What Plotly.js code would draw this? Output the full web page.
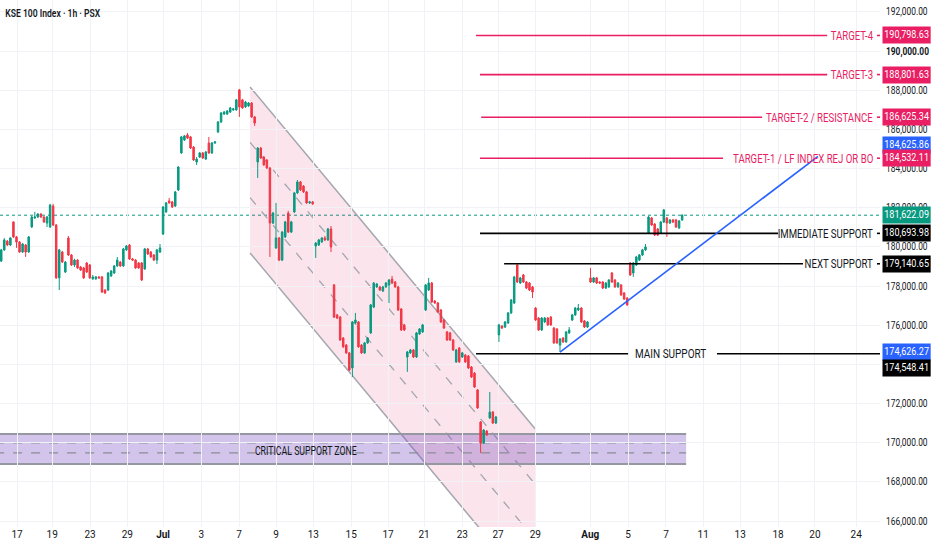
<!DOCTYPE html>
<html><head><meta charset="utf-8">
<script src="https://cdn.plot.ly/plotly-3.0.1.min.js"></script>
<style>html,body{margin:0;padding:0;background:#fff}#chart{width:932px;height:550px}</style>
</head><body><div id="chart"></div>
<script>
// ---- OHLC data (hourly bars, KSE 100) ----
const openP=[179280,179850,180300,180100,181280,180510,180250,179740,180100,179740,181020,181480,181530,181680,181530,181220,181020,182090,
181120,178420,179740,178720,180460,179590,179080,179330,178980,178930,179180,179080,178370,178370,178470,178470,177800,177800,178520,178670,179030,
179230,179030,179850,180100,179390,179330,179180,179180,178880,179900,179740,179590,179330,179740,180660,181790,182350,182300,182090,182910,
184800,185460,185720,185620,185100,184340,184590,184800,184490,185310,184800,185310,185870,186380,186790,186790,186890,187000,187000,188020,
187510,187150,187200,187350,186640,184340,185050,184590,184440,184030,181220,179950,180460,179330,180510,181730,180760,181790,182760,183320,
183110,182810,182250,182300,180050,180100,180260,180460,180360,180920,178060,176530,176420,175350,174990,174590,173820,176120,176170,174990,174590,
175100,175610,176930,177960,177960,177750,177960,178060,178360,178210,177960,176830,176020,174380,174590,174740,174380,175560,175660,176780,
177800,178160,177240,177140,176780,176270,175660,175610,175250,174130,174840,174380,174480,174430,173870,173560,172700,171060,169990,170600,
171270,171570,171010,175510,175960,175910,176120,176630,177140,179080,178160,178570,178210,178160,177960,176880,176370,175760,176170,176370,
176420,175860,175810,174990,175350,175150,175610,176270,176530,176780,176880,176220,175910,178420,178210,178420,178210,178210,177900,177960,
178670,178310,177960,178060,177650,177390,179180,178670,179080,179330,179590,179850,180710,181480,181170,180920,180710,181270,181480,181220,
181380,181380,180970,181380];
const highP=[179900,180450,180350,180500,181300,180560,180300,180200,180150,180560,181580,181790,181730,181730,181580,181580,182200,182200,
181170,179900,179800,179280,180560,179640,179400,179380,179030,178980,179230,179130,178570,178520,178520,178520,177850,178720,178820,179080,179490,
179280,179950,180100,180150,179440,179380,179230,179230,179950,179950,179790,179640,179900,180150,182090,182300,182500,182350,182860,184130,
185670,185720,185820,185670,185150,184590,184850,184850,184900,185620,185360,185410,186430,186890,186940,186990,187150,187100,187560,188070,
187560,187460,187400,187400,186690,185100,185100,184640,184490,184080,181790,182250,180510,180810,181330,181840,181330,182810,183420,183370,
183160,182860,182350,182350,180250,180410,180510,180560,180970,181070,178110,176580,176470,175400,175040,174640,176220,176630,176220,175040,175150,
175400,177090,178210,178160,178010,178010,178210,178360,178520,178260,178010,176880,176070,174690,174790,174790,175660,175860,176070,178110,
178420,178210,177290,177190,176830,176320,175710,175660,175300,174790,174890,174640,174530,174480,173920,173610,172750,171110,170700,170650,
172590,171620,171370,176070,176010,176220,176680,177340,178520,179130,178470,178620,178260,178210,178010,176930,176420,176420,176420,176420,
176470,175910,175860,175350,175400,175710,175910,176580,176930,177090,176930,176270,176220,178930,178470,178470,178260,178260,178210,178360,
178720,178360,178210,178110,177700,177440,179230,179230,179540,179640,179900,180150,181580,181530,181220,180970,181330,181940,181530,181430,
181430,181430,181380,181670];
const lowP=[179230,179800,180050,180050,180460,179950,179700,179700,179490,179700,180970,181430,181480,181480,181220,181020,180970,181070,
178370,177800,179180,178670,179540,179030,178980,178880,178770,178370,178670,178370,178320,178320,178370,177650,177600,177750,178470,178620,178980,
178980,178980,179800,179330,179280,178880,178880,178260,178830,179590,179440,179280,179130,179700,180610,181740,182200,181990,182040,182860,
184750,185410,185510,185000,184390,184190,184540,184490,184440,184750,184750,185260,185820,186330,186740,186740,186840,186950,186950,186640,
187050,187100,187150,186590,186180,183520,184490,184140,183980,179490,181170,179900,179280,179280,180460,180710,180710,181740,182710,182860,
182760,182200,182200,182150,179440,180050,180200,180300,180310,179740,176370,176320,175200,174850,174540,173670,173360,176070,174850,174540,174540,
175050,175560,176880,177910,177750,177700,177910,177140,178110,177910,176730,175710,175710,173620,174540,174330,174330,175510,175610,176730,
177750,177140,177090,176630,176120,175810,175200,175200,174690,174080,174080,174330,174080,173770,173310,172800,171730,169480,169940,170350,
171220,170960,170960,175150,175810,175860,176070,176580,177090,178160,178110,178160,177850,177750,177390,176220,175710,175710,176120,175970,
175970,175050,175050,174640,175100,175100,175560,176220,176480,176730,176120,175860,175860,178160,178160,178110,178110,177850,177850,177910,
178160,177910,177910,177500,177290,176990,178520,178470,179030,179280,179540,179800,180660,181070,180560,180560,180660,181220,180510,181170,
181220,180970,180920,181330];
const closeP=[179850,180360,180100,180460,180510,180250,179740,180150,179740,180510,181530,181530,181680,181530,181280,181530,182140,181120,
178420,179850,179230,179230,179590,179080,179330,178930,178820,178420,178720,178420,178470,178470,178420,177700,177650,178670,178770,179030,179330,
179030,179900,180050,179390,179330,178930,178930,178310,179900,179640,179490,179330,179850,179950,182040,182250,182250,182040,182810,184080,
185620,185670,185560,185050,184440,184490,184800,184540,184850,184800,185310,185360,186380,186840,186890,186940,187100,187050,187510,187150,
187100,187400,187350,186640,186330,185050,184540,184190,184030,181220,181730,180460,179330,180760,181280,180760,181280,182760,183320,182910,
182810,182250,182300,182200,180200,180360,180460,180360,180920,180000,176420,176370,175250,174900,174590,173720,176170,176270,174900,174590,175100,
175350,177040,178160,178110,177800,177960,178160,178310,178160,177960,176780,175760,175760,174640,174740,174380,175610,175810,176020,178060,
178160,177190,177140,176680,176170,175860,175250,175250,174740,174740,174130,174590,174130,173820,173360,172850,171780,169990,170650,170400,
171570,171010,171320,176020,175860,176170,176630,177290,178470,178210,178420,178210,177900,177800,177700,176270,175760,176370,176370,176020,
176020,175100,175100,175300,175150,175660,175760,176530,176880,176880,176170,175910,176170,178210,178420,178160,178160,177900,178160,178310,
178210,177960,178160,177550,177340,177040,178570,179180,179490,179590,179850,180000,181530,181120,180610,180610,181270,181890,181220,181380,
181270,181020,181330,181622.09];
const barIndex = closeP.map((_, i) => i);

// ---- axis ticks ----
const xTickVals = [5.2,16.7,29.1,41.3,53.0,65.5,77.9,90.0,102.2,114.6,126.7,138.5,151.0,162.7,174.9,192.9,205.3,217.7,229.9,242.0,254.4,266.5,280.0];
const xTickText = ['17','19','23','29','<b>Jul</b>','3','7','9','13','15','17','21','23','27','29','<b>Aug</b>','5','7','11','13','18','20','24'];
const yTickVals = [166000,168000,170000,172000,174000,176000,178000,180000,182000,184000,186000,188000,190000,192000];
const yTickText = ['166,000.00','168,000.00','170,000.00','172,000.00','','176,000.00','178,000.00','180,000.00','182,000.00','184,000.00','186,000.00','188,000.00','<b>190,000.00</b>','192,000.00'];

// ---- levels ----
const targetNames = ['TARGET-4','TARGET-3','TARGET-2 / RESISTANCE','TARGET-1 / LF INDEX REJ OR BO'];
const targetPrices = [190798.63,188801.63,186625.34,184532.11];
const targetStart = [155.5,156.8,157.2,156.8];
const targetLineEnd = [270.5,270.5,249.2,236.4];
const supportNames = ['IMMEDIATE SUPPORT','NEXT SUPPORT'];
const supportPrices = [180693.98,179140.65];
const supportStart = [156.8,164.7];
const supportLineEnd = [254.4,262.6];
const mainSupportPrice = 174548.41;
const lastPrice = 181622.09;
const trendStart = [183.0,174626.27];
const trendEnd = [267.5,184625.86];
const channelX = [81.5,174.9];
const channelUpper = [188170,170704];
const channelLower = [179692,162226];
const zoneBounds = [168917,170449];
const zoneDashes = [169990,169480];
const tagPrices=[190798.63,188801.63,186625.34,184625.86,184532.11,181622.09,180693.98,179140.65,174626.27,174548.41];

const PINK='#e91e63', GREEN='#089981', RED='#f23645', BLUE='#2962ff';
const FONT='Roboto, sans-serif';

const trace = {
  type:'candlestick', x:barIndex, open:openP, high:highP, low:lowP, close:closeP,
  increasing:{line:{color:GREEN,width:1},fillcolor:GREEN},
  decreasing:{line:{color:RED,width:1},fillcolor:RED},
  whiskerwidth:0, hoverinfo:'skip', showlegend:false
};

const shapes=[];
const annotations=[];
const squeezeList=[];
const tagTexts=[];
// channel fill
const chPath = 'M'+channelX[0]+','+channelUpper[0]+' L'+channelX[1]+','+channelUpper[1]+' L'+channelX[1]+','+channelLower[1]+' L'+channelX[0]+','+channelLower[0]+' Z';
shapes.push({type:'path',xref:'x',yref:'y',path:chPath,fillcolor:'rgba(233,30,99,0.12)',line:{width:0},layer:'below'});
const offs = (channelUpper[0]-channelLower[0])/3;
shapes.push({type:'line',xref:'x',yref:'y',x0:channelX[0],y0:channelUpper[0],x1:channelX[1],y1:channelUpper[1],line:{color:'#a3a6af',width:1.5},layer:'below'});
shapes.push({type:'line',xref:'x',yref:'y',x0:channelX[0],y0:channelLower[0],x1:channelX[1],y1:channelLower[1],line:{color:'#a3a6af',width:1.5},layer:'below'});
[1,2].forEach(k=>{
  shapes.push({type:'line',xref:'x',yref:'y',x0:channelX[0],y0:channelUpper[0]-k*offs,x1:channelX[1],y1:channelUpper[1]-k*offs,line:{color:'#a3a6af',width:1.3,dash:'dash'},layer:'below'});
});
// critical zone
shapes.push({type:'rect',xref:'x',yref:'y',x0:-2,x1:224.3,y0:zoneBounds[0],y1:zoneBounds[1],fillcolor:'rgba(126,87,194,0.35)',line:{width:0},layer:'below'});
zoneBounds.forEach(v=>shapes.push({type:'line',xref:'x',yref:'y',x0:-2,x1:224.3,y0:v,y1:v,line:{color:'#9598a1',width:2},layer:'below'}));
zoneDashes.forEach(v=>shapes.push({type:'line',xref:'x',yref:'y',x0:-2,x1:224.3,y0:v,y1:v,line:{color:'#8a8d96',width:1.2,dash:'dash'},layer:'below'}));
annotations.push({x:99.9,y:(zoneBounds[0]+zoneBounds[1])/2-120,xref:'x',yref:'y',text:'CRITICAL SUPPORT ZONE',showarrow:false,font:{family:FONT,size:12,color:'#131722'}});
squeezeList.push(['CRITICAL SUPPORT ZONE',0.73,'mid']);
// last price dotted
shapes.push({type:'line',xref:'paper',yref:'y',x0:0,x1:1,y0:lastPrice,y1:lastPrice,line:{color:GREEN,width:1,dash:'dot'},layer:'below'});
// targets
targetPrices.forEach((p,i)=>{
  shapes.push({type:'line',xref:'x',yref:'y',x0:targetStart[i],x1:targetLineEnd[i],y0:p,y1:p,line:{color:PINK,width:1.6}});
  shapes.push({type:'line',xref:'x',yref:'y',x0:286.8,x1:289,y0:p,y1:p,line:{color:PINK,width:1.6}});
  annotations.push({x:286.3,y:p,xref:'x',yref:'y',xanchor:'right',yanchor:'middle',text:targetNames[i],showarrow:false,font:{family:FONT,size:12.5,color:PINK}});
  squeezeList.push([targetNames[i],0.77,'right']);
});
supportPrices.forEach((p,i)=>{
  shapes.push({type:'line',xref:'x',yref:'y',x0:supportStart[i],x1:supportLineEnd[i],y0:p,y1:p,line:{color:'#000',width:1.6}});
  shapes.push({type:'line',xref:'x',yref:'y',x0:286.8,x1:289,y0:p,y1:p,line:{color:'#000',width:1.6}});
  annotations.push({x:286.3,y:p,xref:'x',yref:'y',xanchor:'right',yanchor:'middle',text:supportNames[i],showarrow:false,font:{family:FONT,size:12.5,color:'#131722'}});
  squeezeList.push([supportNames[i],0.77,'right']);
});
shapes.push({type:'line',xref:'x',yref:'y',x0:155.5,x1:205.3,y0:mainSupportPrice,y1:mainSupportPrice,line:{color:'#000',width:1.6}});
shapes.push({type:'line',xref:'x',yref:'y',x0:234.4,x1:289,y0:mainSupportPrice,y1:mainSupportPrice,line:{color:'#000',width:1.6}});
annotations.push({x:219.5,y:mainSupportPrice,xref:'x',yref:'y',xanchor:'center',yanchor:'middle',text:'MAIN SUPPORT',showarrow:false,font:{family:FONT,size:12.5,color:'#131722'}});
squeezeList.push(['MAIN SUPPORT',0.8,'mid']);
// trendline
shapes.push({type:'line',xref:'x',yref:'y',x0:trendStart[0],y0:trendStart[1],x1:trendEnd[0],y1:trendEnd[1],line:{color:BLUE,width:1.6}});

// price tags on right axis
const tagColors=[PINK,PINK,PINK,BLUE,PINK,GREEN,'#000','#000',BLUE,'#000'];
const tagShift=[0,0,0,11,0,0,0,0,0,-14];
tagPrices.forEach((p,i)=>{
  const txt=p.toLocaleString('en-US',{minimumFractionDigits:2,maximumFractionDigits:2});
  tagTexts.push(txt);
  annotations.push({xref:'paper',x:1,xanchor:'left',xshift:2,yref:'y',y:p,yanchor:'middle',yshift:tagShift[i],
    text:txt,showarrow:false,bgcolor:tagColors[i],borderpad:1.5,font:{family:FONT,size:10.5,color:'#fff'}});
});

const layout={
  width:932,height:550,margin:{l:0,r:52,t:0,b:23},
  paper_bgcolor:'#fff',plot_bgcolor:'#fff',
  title:{text:'KSE 100 Index · 1h · PSX',x:0.006,xanchor:'left',xref:'paper',y:0.976,yanchor:'middle',yref:'container',font:{family:FONT,size:11,color:'#131722',weight:600}},
  xaxis:{range:[-0.4,287.8],tickvals:xTickVals,ticktext:xTickText,tickangle:0,showgrid:true,gridcolor:'#f1f2f5',zeroline:false,
    rangeslider:{visible:false},showline:false,ticks:'',tickfont:{family:FONT,size:10,color:'#131722'},fixedrange:true},
  yaxis:{range:[165700,192610],side:'right',tickvals:yTickVals,ticktext:yTickText,showgrid:true,gridcolor:'#f1f2f5',zeroline:false,
    showline:false,ticks:'',ticklabelstandoff:5,tickfont:{family:FONT,size:10,color:'#131722'},fixedrange:true},
  shapes:shapes,annotations:annotations,showlegend:false,hovermode:false
};

function squeeze(el,s,mode){
  const bb=el.getBBox();
  const ax = mode==='right'? bb.x+bb.width : (mode==='left'? bb.x : bb.x+bb.width/2);
  const prev=el.getAttribute('transform')||'';
  el.setAttribute('transform',prev+' translate('+ax+',0) scale('+s+',1) translate('+(-ax)+',0)');
}
Plotly.newPlot('chart',[trace],layout,{displayModeBar:false,staticPlot:true}).then(gd=>{
  gd.querySelectorAll('text.annotation-text').forEach(t=>{
    const item=squeezeList.find(q=>q[0]===t.textContent);
    if(item) squeeze(t,item[1],item[2]);
    else if(tagTexts.indexOf(t.textContent)>=0){
      const g=t.closest('.annotation-text-g');
      if(g) squeeze(g,0.86,'left');
    }
  });
  gd.querySelectorAll('.ytick text').forEach(t=>squeeze(t,0.84,'left'));
  const tt=gd.querySelector('.gtitle');
  if(tt) squeeze(tt,0.78,'left');
});
</script></body></html>
